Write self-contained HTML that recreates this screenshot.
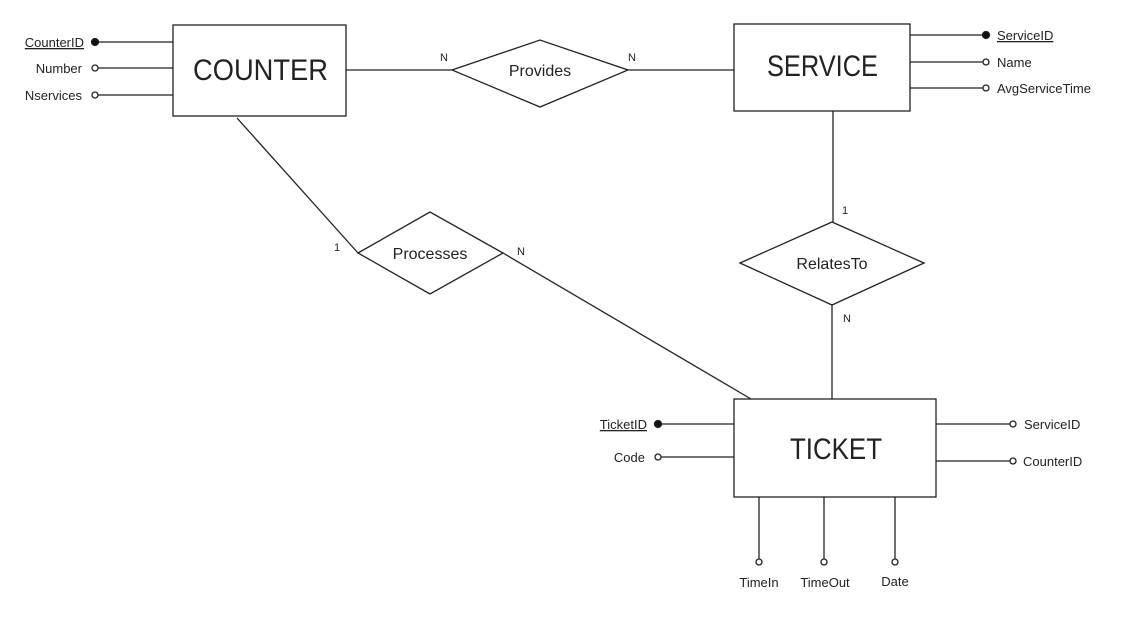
<!DOCTYPE html>
<html><head><style>body{margin:0;background:#fff}</style></head><body>
<svg width="1136" height="612" viewBox="0 0 1136 612" xmlns="http://www.w3.org/2000/svg" font-family="Liberation Sans, DejaVu Sans, sans-serif" fill="#222">
<g stroke="#222" stroke-width="1.3" fill="none">
<rect x="173" y="25" width="173" height="91" fill="#fff"/>
<rect x="734" y="24" width="176" height="87" fill="#fff"/>
<rect x="734" y="399" width="202" height="98" fill="#fff"/>
<polygon points="452,70 540,40 628,70 540,107" fill="#fff"/>
<polygon points="358,253 430,212 503,253 430,294" fill="#fff"/>
<polygon points="740,263 832,222 924,263 832,305" fill="#fff"/>
<line x1="346" y1="70" x2="452" y2="70"/>
<line x1="628" y1="70" x2="734" y2="70"/>
<line x1="237" y1="118" x2="358" y2="253"/>
<line x1="503" y1="253" x2="751" y2="399"/>
<line x1="833" y1="111" x2="833" y2="222"/>
<line x1="832" y1="305" x2="832" y2="399"/>
<line x1="98" y1="42" x2="173" y2="42"/>
<line x1="98" y1="68" x2="173" y2="68"/>
<line x1="98" y1="95" x2="173" y2="95"/>
<line x1="910" y1="35" x2="983" y2="35"/>
<line x1="910" y1="62" x2="983" y2="62"/>
<line x1="910" y1="88" x2="983" y2="88"/>
<line x1="661" y1="424" x2="734" y2="424"/>
<line x1="661" y1="457" x2="734" y2="457"/>
<line x1="936" y1="424" x2="1010" y2="424"/>
<line x1="936" y1="461" x2="1010" y2="461"/>
<line x1="759" y1="497" x2="759" y2="559"/>
<line x1="824" y1="497" x2="824" y2="559"/>
<line x1="895" y1="497" x2="895" y2="559"/>
<circle cx="95" cy="42" r="3.5" fill="#111"/>
<circle cx="95" cy="68" r="3" fill="#fff"/>
<circle cx="95" cy="95" r="3" fill="#fff"/>
<circle cx="986" cy="35" r="3.5" fill="#111"/>
<circle cx="986" cy="62" r="3" fill="#fff"/>
<circle cx="986" cy="88" r="3" fill="#fff"/>
<circle cx="658" cy="424" r="3.5" fill="#111"/>
<circle cx="658" cy="457" r="3" fill="#fff"/>
<circle cx="1013" cy="424" r="3" fill="#fff"/>
<circle cx="1013" cy="461" r="3" fill="#fff"/>
<circle cx="759" cy="562" r="3" fill="#fff"/>
<circle cx="824" cy="562" r="3" fill="#fff"/>
<circle cx="895" cy="562" r="3" fill="#fff"/>
</g>
<g font-size="30">
<text x="193" y="80" textLength="135" lengthAdjust="spacingAndGlyphs">COUNTER</text>
<text x="767" y="76" textLength="111" lengthAdjust="spacingAndGlyphs">SERVICE</text>
<text x="790" y="459" textLength="92" lengthAdjust="spacingAndGlyphs">TICKET</text>
</g>
<g font-size="16" text-anchor="middle">
<text x="540" y="76">Provides</text>
<text x="430" y="259">Processes</text>
<text x="832" y="269">RelatesTo</text>
</g>
<g font-size="13" text-anchor="end">
<text x="84" y="47" text-decoration="underline">CounterID</text>
<text x="82" y="73">Number</text>
<text x="82" y="100">Nservices</text>
<text x="647" y="429" text-decoration="underline">TicketID</text>
<text x="645" y="462">Code</text>
</g>
<g font-size="13">
<text x="997" y="40" text-decoration="underline">ServiceID</text>
<text x="997" y="67">Name</text>
<text x="997" y="93">AvgServiceTime</text>
<text x="1024" y="429">ServiceID</text>
<text x="1023" y="466">CounterID</text>
</g>
<g font-size="13" text-anchor="middle">
<text x="759" y="587">TimeIn</text>
<text x="825" y="587">TimeOut</text>
<text x="895" y="586">Date</text>
</g>
<g font-size="11">
<text x="440" y="61">N</text>
<text x="628" y="61">N</text>
<text x="334" y="251">1</text>
<text x="517" y="255">N</text>
<text x="842" y="214">1</text>
<text x="843" y="322">N</text>
</g>
</svg>
</body></html>
